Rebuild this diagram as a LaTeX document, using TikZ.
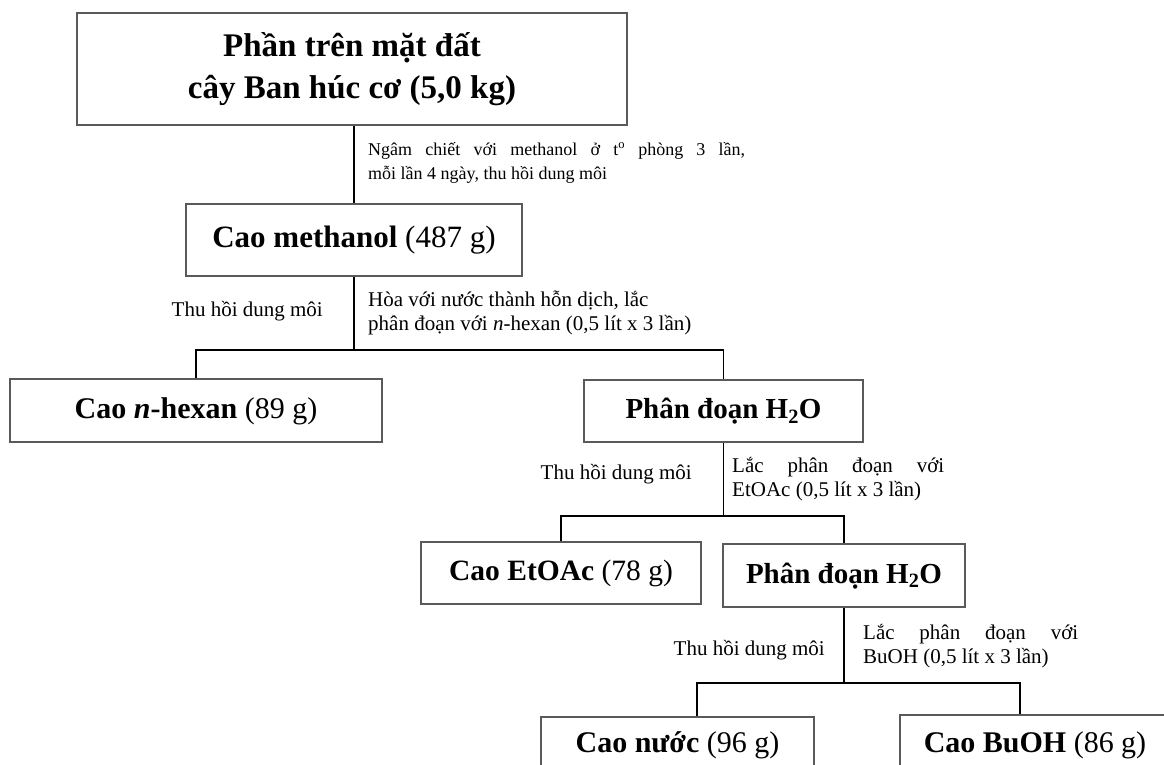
\documentclass[tikz,border=0pt]{standalone}
\usepackage{fontspec}
\setmainfont{Liberation Serif}
\definecolor{boxgray}{HTML}{5A5A5A}
\begin{document}
\begin{tikzpicture}[x=1pt,y=-1pt,
  box/.style={draw=boxgray, line width=1.6pt, inner sep=0pt, align=center,
    font=\fontsize{30}{34}\selectfont},
  onel/.style={text height=22pt, text depth=7pt},
  conn/.style={line width=1.8pt, draw=black},
  lbl/.style={font=\fontsize{21}{24}\selectfont, inner sep=0pt, align=left},
  lblsmall/.style={font=\fontsize{18}{24}\selectfont, inner sep=0pt, align=left}]
\clip (0,0) rectangle (1164,765);
\fill[white] (0,0) rectangle (1164,765);
% boxes
\node[box, minimum width=550pt, minimum height=112pt, font=\fontsize{33}{42}\selectfont] (top) at (352,69)
  {\textbf{Phần trên mặt đất}\\\textbf{cây Ban húc cơ (5,0 kg)}};
\node[box, onel, minimum width=336pt, minimum height=72pt, font=\fontsize{31}{34}\selectfont] (meth) at (354,240)
  {\textbf{Cao methanol} (487 g)};
\node[box, onel, minimum width=372pt, minimum height=63pt] (hex) at (196,410.5)
  {\textbf{Cao \textit{n}-hexan} (89 g)};
\node[box, onel, minimum width=279pt, minimum height=62pt, font=\fontsize{29}{34}\selectfont] (h2oA) at (723.5,411)
  {\textbf{Phân đoạn H\textsubscript{2}O}};
\node[box, onel, minimum width=280pt, minimum height=62pt, font=\fontsize{29.5}{34}\selectfont] (etoac) at (561,573)
  {\textbf{Cao EtOAc} (78 g)};
\node[box, onel, minimum width=242pt, minimum height=63pt, font=\fontsize{29}{34}\selectfont] (h2oB) at (844,575.5)
  {\textbf{Phân đoạn H\textsubscript{2}O}};
\node[box, onel, minimum width=273pt, minimum height=56pt] (nuoc) at (677.5,745)
  {\textbf{Cao nước} (96 g)};
\node[box, onel, minimum width=270pt, minimum height=60pt] (buoh) at (1035,745)
  {\textbf{Cao BuOH} (86 g)};
% connectors
\draw[conn] (meth.north) -- (meth.north |- top.south);
\coordinate (j1) at (354,350);
\draw[conn] (meth.south) -- (j1);
\draw[conn] (hex.north) -- (hex.north |- j1) -- (h2oA.north |- j1) -- (h2oA.north);
\coordinate (j2) at (723.5,516);
\draw[conn] (h2oA.south) -- (j2);
\draw[conn] (etoac.north) -- (etoac.north |- j2) -- (h2oB.north |- j2) -- (h2oB.north);
\coordinate (j3) at (844,683);
\draw[conn] (h2oB.south) -- (j3);
\coordinate (d1) at (697,683);
\coordinate (d2) at (1020,683);
\draw[conn] (d1 |- nuoc.north) -- (d1) -- (d2) -- (d2 |- buoh.north);
% labels (base anchor = baseline of last line)
\node[lblsmall, anchor=base west] (l1) at (368,179)
  {\makebox[377pt][s]{Ngâm chiết với methanol ở t\textsuperscript{o} phòng 3 lần,}\\mỗi lần 4 ngày, thu hồi dung môi};
\node[lbl, anchor=base west] (l2) at (368,330)
  {Hòa với nước thành hỗn dịch, lắc\\phân đoạn với \textit{n}-hexan (0,5 lít x 3 lần)};
\node[lbl, anchor=base east] (t1) at (323,316) {Thu hồi dung môi};
\node[lbl, anchor=base west] (l3) at (732,496)
  {\makebox[212pt][s]{Lắc phân đoạn với}\\EtOAc (0,5 lít x 3 lần)};
\node[lbl, anchor=base east] (t2) at (692,479) {Thu hồi dung môi};
\node[lbl, anchor=base west] (l4) at (863,663)
  {\makebox[215pt][s]{Lắc phân đoạn với}\\BuOH (0,5 lít x 3 lần)};
\node[lbl, anchor=base east] (t3) at (825,655) {Thu hồi dung môi};
\end{tikzpicture}
\end{document}
